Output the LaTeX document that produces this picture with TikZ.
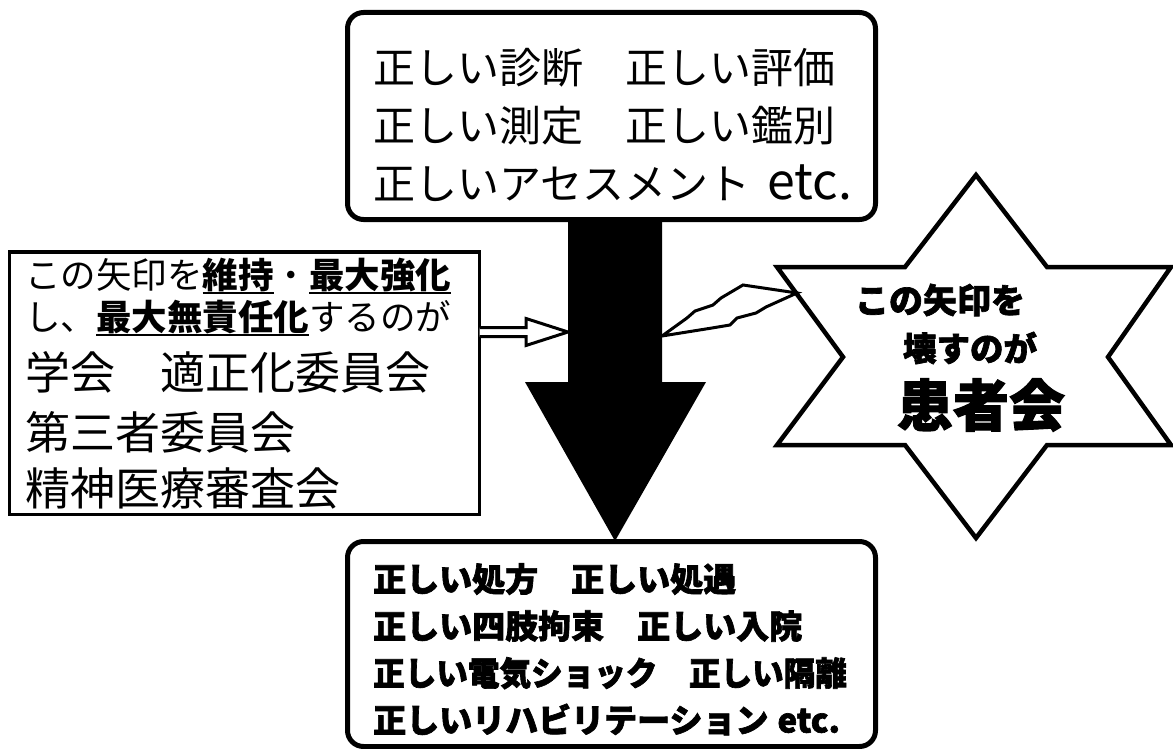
\documentclass[tikz,border=0pt]{standalone}
\usepackage{fontspec}
\usepackage{graphicx}
\usetikzlibrary{calc}
\newfontfamily\jp{Noto Sans CJK JP}
\newfontfamily\jpheavy{Noto Sans CJK JP}[BoldFeatures={FakeBold=2}]
\newcommand{\myul}[1]{\setbox0\hbox{#1}\rlap{\vrule width\wd0 height -3.5pt depth 6pt}\box0}
\begin{document}
\begin{tikzpicture}[x=1pt,y=-1pt,
  rbox/.style={draw, line width=5pt, rounded corners=16pt, fill=white, outer sep=0pt, inner sep=0pt, anchor=north west},
  sbox/.style={draw, line width=3.5pt, fill=white, outer sep=0pt, inner sep=0pt, anchor=north west},
  toptxt/.style={font=\jp\fontsize{42}{42}\selectfont, inner sep=0pt, anchor=west, text height=37pt, text depth=5pt},
  bottxt/.style={font=\jpheavy\bfseries\fontsize{33}{33}\selectfont, inner sep=0pt, anchor=west, text height=29pt, text depth=4pt},
  lefts/.style={font=\jp\fontsize{35.5}{35.5}\selectfont, inner sep=0pt, anchor=west, text height=31pt, text depth=4.5pt},
  leftb/.style={font=\jp\fontsize{45}{45}\selectfont, inner sep=0pt, anchor=west, text height=39.5pt, text depth=5.5pt},
  startxt/.style={font=\jpheavy\bfseries\fontsize{#1}{#1}\selectfont, inner sep=0pt, anchor=center},
  starline/.style={draw, line width=4.5pt, fill=white, line join=miter},
  bolt/.style={draw, line width=3pt, fill=white, line join=miter}
]
\useasboundingbox (0,0) rectangle (1173,749);

% key coordinates of the big arrow
\coordinate (shaftTL) at (568,219);
\coordinate (shaftTR) at (662,219);
\coordinate (headL) at (525,382);
\coordinate (headR) at (706,382);
\coordinate (tip) at (615,541);
\coordinate (shaftL) at (568,332);
\coordinate (shaftR) at (662,336);

% big black arrow
\fill[black] (shaftTL) -- (shaftTR) -- (662,382) -- (headR) -- (tip) -- (headL) -- (568,382) -- cycle;

% top box
\node[rbox, minimum width=528pt, minimum height=207pt] (topbox) at (347.5,12.5) {};
\node[toptxt] (t1) at (373,68) {正しい診断　正しい評価};
\node[toptxt] (t2) at (373,126) {正しい測定　正しい鑑別};
\node[toptxt] (t3) at (373,184) {正しいアセスメント\hspace{17pt}{\fontsize{50}{50}\selectfont etc.}};

% bottom box
\node[rbox, minimum width=528pt, minimum height=205pt] (botbox) at (347.5,541.5) {};
\node[bottxt] (b1) at (373,579) {正しい処方　正しい処遇};
\node[bottxt] (b2) at (373,626) {正しい四肢拘束　正しい入院};
\node[bottxt] (b3) at (373,673) {\scalebox{0.957}[1]{正しい電気ショック　正しい隔離}};
\node[bottxt] (b4) at (373,720) {正しいリハビリテーション\hspace{9pt}etc.};

% left box
\node[sbox, minimum width=470pt, minimum height=262.5pt] (leftbox) at (9.5,252) {};
\node[lefts] (l1) at (25,275) {この矢印を\myul{\bfseries 維持}・\myul{\bfseries 最大強化}};
\node[lefts] (l2) at (25,317) {し、\myul{\bfseries 最大無責任化}するのが};
\node[leftb] (l3) at (25,372) {学会　適正化委員会};
\node[leftb] (l4) at (25,432) {第三者委員会};
\node[leftb] (l5) at (25,488) {精神医療審査会};

% hollow arrow from left box to shaft
\coordinate (hstart) at (leftbox.east |- shaftL);
\draw[bolt] ($(hstart)+(0,-4.5)$) -- (526,327.5) -- (526,318.5) -- (shaftL) -- (526,345.5) -- (526,336.5) -- ($(hstart)+(0,4.5)$);

% star
\draw[starline] (976,175) -- (1047,267) -- (1171,267) -- (1108,357) -- (1171,445) -- (1047,445)
  -- (976,538) -- (905,445) -- (777,445) -- (843,357) -- (777,267) -- (905,267) -- cycle;
\coordinate (starhit) at (797,293);
\node[startxt=34] (s1) at (940,300) {この矢印を};
\node[startxt=33.5] (s2) at (970,348) {壊すのが};
\node[startxt=56] (s3) at (981,405) {患者会};

% lightning bolt from star to shaft
\draw[bolt] (shaftR) -- (687,318) -- (695,311) -- (713,305) -- (721,298) -- (743,285) -- (starhit)
  -- (766,307) -- (756,313) -- (737,318) -- (730,325) -- (712,328) -- cycle;
\end{tikzpicture}
\end{document}
